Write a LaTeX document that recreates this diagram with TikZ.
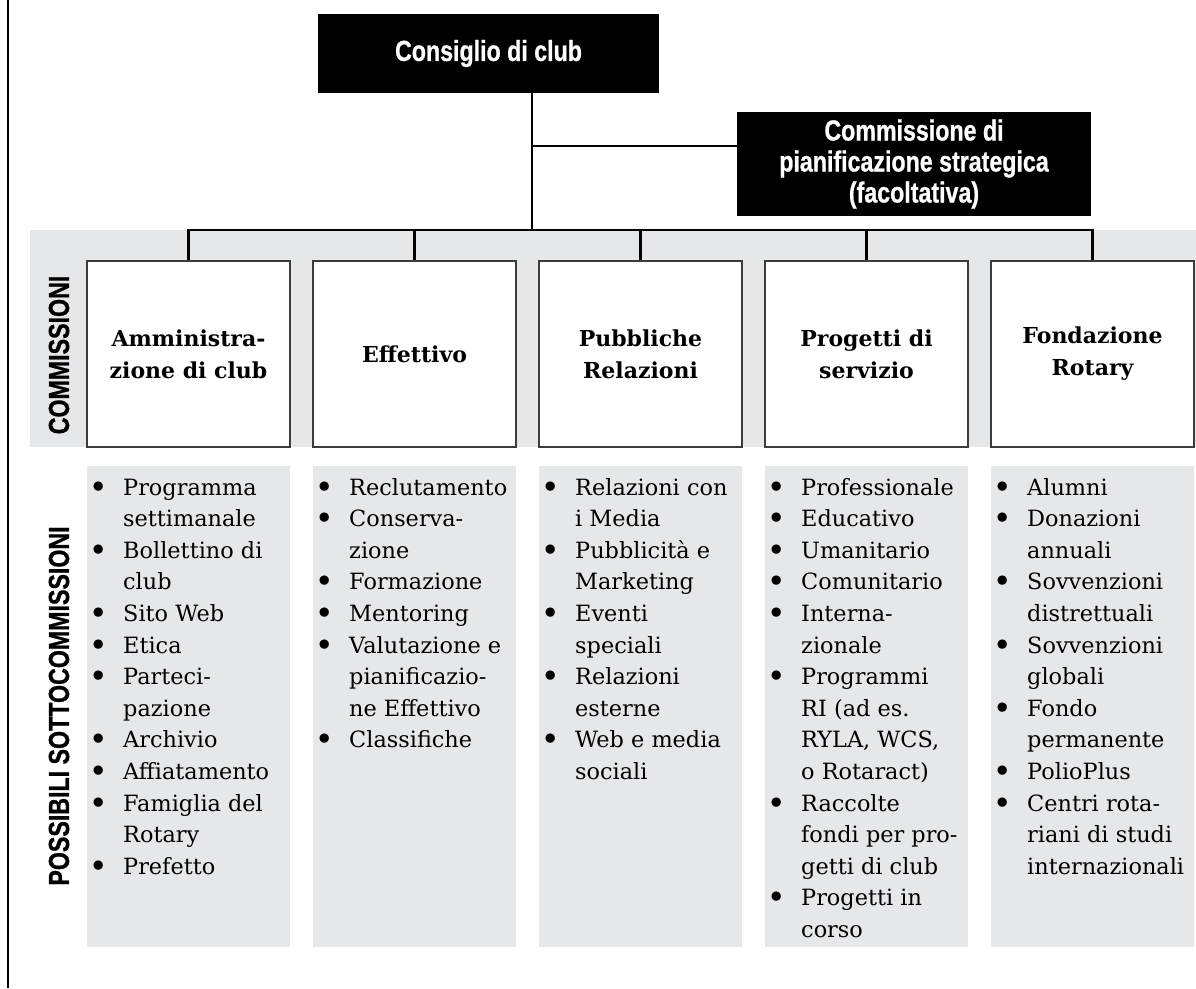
\documentclass[tikz,border=0pt]{standalone}
\usepackage{fontspec}
\setmainfont{DejaVu Serif}
\newfontfamily\condfont[FakeStretch=0.8, BoldFeatures={FakeBold=0.8}]{Liberation Sans}
\definecolor{bandgray}{HTML}{E6E7E8}
\definecolor{edgegray}{HTML}{3C3C3C}
\newcommand{\listfnt}{\fontsize{22.4pt}{31.6pt}\selectfont}
\newcommand{\bigbul}{\raisebox{-3pt}{\fontsize{32pt}{32pt}\selectfont\textbullet}}
\newcommand{\bitem}[1]{\par\noindent\hangindent=25pt\hangafter=1\makebox[25pt][l]{\makebox[0pt][c]{\bigbul}}#1}
\newcommand{\sublist}[1]{\begin{minipage}[t]{200pt}\listfnt\raggedright\let\\\newline #1\end{minipage}}
\tikzset{
  blackbox/.style={fill=black, draw=none, text=white, align=center, inner sep=0pt,
    font=\condfont\bfseries\fontsize{29pt}{31pt}\selectfont},
  combox/.style={draw=edgegray, line width=1.5pt, fill=white, minimum width=203pt,
    minimum height=186pt, inner sep=0pt, align=center,
    font=\bfseries\fontsize{22pt}{32pt}\selectfont},
  listbg/.style={fill=bandgray, draw=none, minimum width=203pt, minimum height=481pt, inner sep=0pt},
  sidelabel/.style={rotate=90, inner sep=0pt, font=\condfont\bfseries\fontsize{29pt}{31pt}\selectfont},
  listtext/.style={anchor=base west, inner sep=0pt},
  conn/.style={line width=2.2pt, black},
}
\begin{document}
\begin{tikzpicture}[x=1pt,y=-1pt]
\useasboundingbox (0,0) rectangle (1196,988);
% left rule
\draw[line width=2.5pt] (8,0) -- (8,988);
% gray band behind committees
\fill[bandgray] (30,230) rectangle (1196,447);
% top boxes
\node[blackbox, minimum width=341pt, minimum height=79pt] (cons) at (488.5,53.5) {Consiglio di club};
\node[blackbox, minimum width=354pt, minimum height=104pt] (strat) at (914,164) {Commissione di\\pianificazione strategica\\(facoltativa)};
% committees
\node[combox] (c1) at (188.5,354) {Amministra-\\zione di club};
\node[combox] (c2) at (414.5,354) {Effettivo};
\node[combox] (c3) at (640.5,354) {Pubbliche\\Relazioni};
\node[combox] (c4) at (866.5,354) {Progetti di\\servizio};
\node[combox] (c5) at (1092.5,354) {Fondazione\\Rotary};
% side labels
\node[sidelabel] (lab1) at (59,355) {COMMISSIONI};
\node[sidelabel] (lab2) at (59,706) {POSSIBILI SOTTOCOMMISSIONI};
% connectors
\coordinate (hub) at (532,230);
\coordinate (sj) at (532,146);
\draw[conn] (cons.south -| hub) -- (hub);
\draw[conn] (sj) -- (sj -| strat.west);
\draw[conn] (c1.north) -- (c1.north |- hub) -- (c5.north |- hub) -- (c5.north);
\draw[conn] (c2.north |- hub) -- (c2.north);
\draw[conn] (c3.north |- hub) -- (c3.north);
\draw[conn] (c4.north |- hub) -- (c4.north);
% list backgrounds
\node[listbg] (l1) at (188.5,706.5) {};
\node[listbg] (l2) at (414.5,706.5) {};
\node[listbg] (l3) at (640.5,706.5) {};
\node[listbg] (l4) at (866.5,706.5) {};
\node[listbg] (l5) at (1092.5,706.5) {};
% lists
\node[listtext] (t1) at (98,495) {\sublist{%
\bitem{Programma\\settimanale}
\bitem{Bollettino di\\club}
\bitem{Sito Web}
\bitem{Etica}
\bitem{Parteci-\\pazione}
\bitem{Archivio}
\bitem{Affiatamento}
\bitem{Famiglia del\\Rotary}
\bitem{Prefetto}}};
\node[listtext] (t2) at (324,495) {\sublist{%
\bitem{Reclutamento}
\bitem{Conserva-\\zione}
\bitem{Formazione}
\bitem{Mentoring}
\bitem{Valutazione e\\pianificazio-\\ne Effettivo}
\bitem{Classifiche}}};
\node[listtext] (t3) at (550,495) {\sublist{%
\bitem{Relazioni con\\i Media}
\bitem{Pubblicità e\\Marketing}
\bitem{Eventi\\speciali}
\bitem{Relazioni\\esterne}
\bitem{Web e media\\sociali}}};
\node[listtext] (t4) at (776,495) {\sublist{%
\bitem{Professionale}
\bitem{Educativo}
\bitem{Umanitario}
\bitem{Comunitario}
\bitem{Interna-\\zionale}
\bitem{Programmi\\RI (ad es.\\RYLA, WCS,\\o Rotaract)}
\bitem{Raccolte\\fondi per pro-\\getti di club}
\bitem{Progetti in\\corso}}};
\node[listtext] (t5) at (1002,495) {\sublist{%
\bitem{Alumni}
\bitem{Donazioni\\annuali}
\bitem{Sovvenzioni\\distrettuali}
\bitem{Sovvenzioni\\globali}
\bitem{Fondo\\permanente}
\bitem{PolioPlus}
\bitem{Centri rota-\\riani di studi\\internazionali}}};
\end{tikzpicture}
\end{document}
